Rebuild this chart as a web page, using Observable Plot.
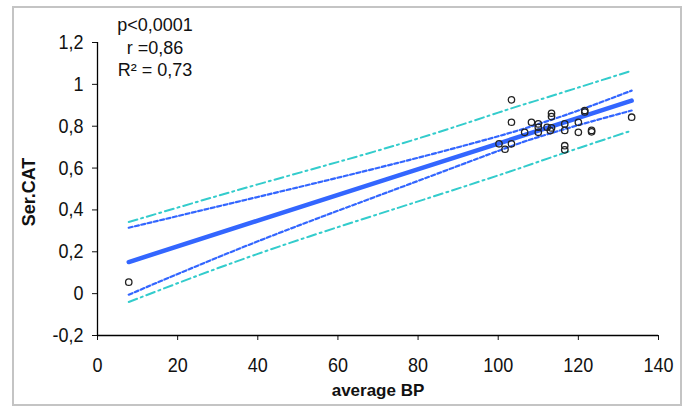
<!DOCTYPE html>
<html>
<head>
<meta charset="utf-8">
<script src="https://cdn.jsdelivr.net/npm/d3@7"></script>
<script src="https://cdn.jsdelivr.net/npm/@observablehq/plot@0.6"></script>
<style>
  html, body { margin: 0; padding: 0; background: #fff; }
  #wrap { position: relative; width: 686px; height: 407px; overflow: hidden; font-family: "Liberation Sans", Arial, sans-serif; }
  #chart svg text { font-size: 18px !important; font-family: "Liberation Sans", Arial, sans-serif !important; fill: #111; }
  #frame { position: absolute; left: 12px; top: 6px; width: 666px; height: 396px; border: 2px solid #c4c4c4; pointer-events: none; }
  #stats { position: absolute; left: 95px; top: 14px; width: 120px; text-align: center; font-size: 18px; line-height: 22.5px; color: #111; }
  .lbl { position: absolute; font-weight: bold; font-size: 17px; color: #111; white-space: nowrap; }
  #xlabel { left: 0; width: 756px; text-align: center; top: 381px; }
  #ylabel { left: 29px; top: 192px; transform: translate(-50%, -50%) rotate(-90deg); font-size: 18px; }
</style>
</head>
<body>
<div id="wrap">
  <div id="chart"></div>
  <div id="frame"></div>
  <div id="stats">p&lt;0,0001<br>r =0,86<br>R² = 0,73</div>
  <div class="lbl" id="xlabel">average BP</div>
  <div class="lbl" id="ylabel">Ser.CAT</div>
</div>
<script>
// Scatter data (average BP vs Ser.CAT)
const bp  = [7.8, 100.2, 101.7, 103.3, 103.3, 103.3, 106.6, 108.3, 110.0, 110.0, 110.0, 112.2, 113.3, 113.3, 113.3, 113.0, 116.6, 116.6, 116.6, 116.6, 120.0, 120.0, 121.6, 121.6, 123.3, 123.3, 133.3];
const cat = [0.055, 0.716, 0.690, 0.716, 0.819, 0.926, 0.771, 0.819, 0.811, 0.795, 0.771, 0.795, 0.862, 0.846, 0.792, 0.779, 0.811, 0.780, 0.707, 0.687, 0.819, 0.771, 0.875, 0.868, 0.780, 0.773, 0.843];

// Regression line and bands, read at these x positions
const bandX   = [7.8, 40, 75, 100, 110, 120, 133.3];
const fitY    = [0.151, 0.349, 0.564, 0.717, 0.779, 0.840, 0.922];
const ciUpper = [0.315, 0.462, 0.625, 0.752, 0.810, 0.875, 0.970];
const ciLower = [-0.005, 0.250, 0.503, 0.682, 0.748, 0.805, 0.875];
const piUpper = [0.342, 0.522, 0.712, 0.865, 0.925, 0.985, 1.065];
const piLower = [-0.040, 0.190, 0.410, 0.565, 0.630, 0.695, 0.779];

// Axis ticks
const xTicks = [0, 20, 40, 60, 80, 100, 120, 140];
const yTicks = [-0.2, 0, 0.2, 0.4, 0.6, 0.8, 1, 1.2];
const yTickLabels = ["-0,2", "0", "0,2", "0,4", "0,6", "0,8", "1", "1,2"];

const points = bp.map((x, i) => ({x, y: cat[i]}));
const series = (ys) => bandX.map((x, i) => ({x, y: ys[i]}));

const blue = "#3366ff";
const cyan = "#33cccc";

const chart = Plot.plot({
  width: 686,
  height: 407,
  marginLeft: 97,
  marginRight: 28,
  marginTop: 42,
  marginBottom: 72,
  style: {fontFamily: "Liberation Sans, Arial, sans-serif", fontSize: "18px", color: "#111", background: "transparent"},
  x: {domain: [0, 140], ticks: xTicks, label: null},
  y: {domain: [-0.2, 1.2], ticks: yTicks, label: null},
  marks: [
    Plot.axisX({ticks: xTicks, tickSize: 5, tickPadding: 18, label: null, tickFormat: d => String(d)}),
    Plot.axisY({ticks: yTicks, tickSize: 5, tickPadding: 9, label: null, tickFormat: d => yTickLabels[yTicks.indexOf(d)]}),
    Plot.ruleX([0], {stroke: "#000", strokeWidth: 1.3}),
    Plot.ruleY([-0.2], {stroke: "#000", strokeWidth: 1.3}),
    Plot.line(series(piUpper), {x: "x", y: "y", stroke: cyan, strokeWidth: 2, strokeDasharray: "9,4,2,4", curve: "natural"}),
    Plot.line(series(piLower), {x: "x", y: "y", stroke: cyan, strokeWidth: 2, strokeDasharray: "9,4,2,4", curve: "natural"}),
    Plot.line(series(ciUpper), {x: "x", y: "y", stroke: blue, strokeWidth: 2.2, strokeDasharray: "4,2.5", curve: "natural"}),
    Plot.line(series(ciLower), {x: "x", y: "y", stroke: blue, strokeWidth: 2.2, strokeDasharray: "4,2.5", curve: "natural"}),
    Plot.line(series(fitY), {x: "x", y: "y", stroke: blue, strokeWidth: 4.5, curve: "linear"}),
    Plot.dot(points, {x: "x", y: "y", r: 3.2, stroke: "#222", strokeWidth: 1.3, fill: "none"})
  ]
});
document.getElementById("chart").appendChild(chart);
// stretch the tick labels slightly in height about their own centres, like the source font
chart.querySelectorAll("text").forEach(t => {
  const b = t.getBBox();
  const cx = b.x + b.width / 2, cy = b.y + b.height / 2;
  const tr = t.getAttribute("transform") || "";
  t.setAttribute("transform", `${tr} translate(${cx},${cy}) scale(1,1.12) translate(${-cx},${-cy})`);
});
</script>
</body>
</html>
